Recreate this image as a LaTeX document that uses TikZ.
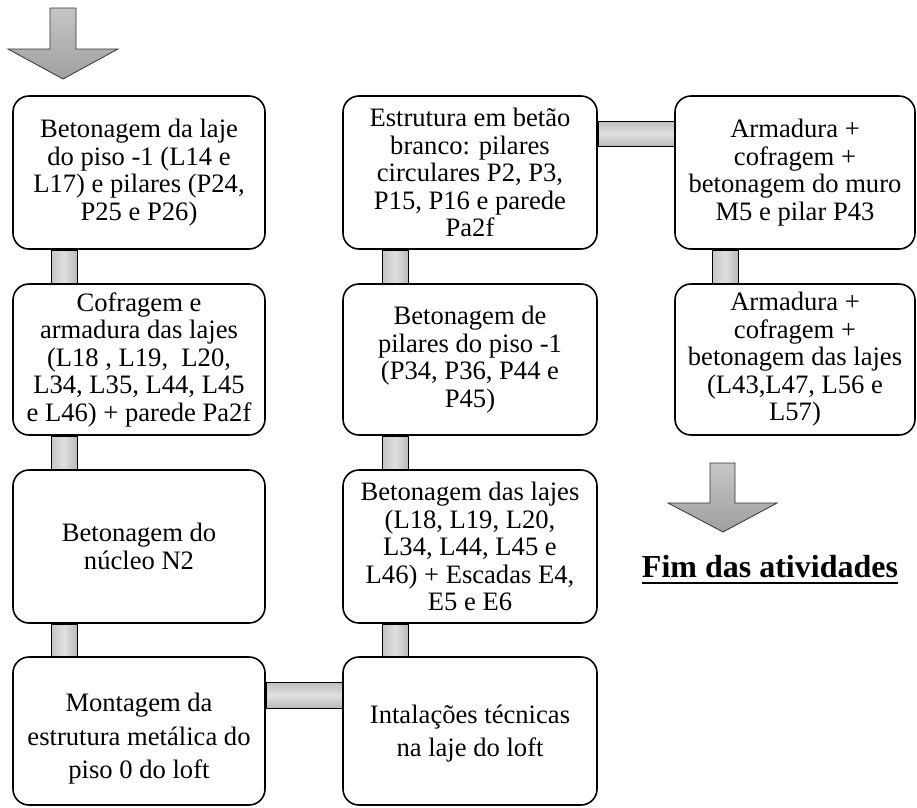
\documentclass[tikz,border=0pt]{standalone}
\usepackage{fontspec}
\setmainfont{Liberation Serif}
\usetikzlibrary{calc}
\tikzset{
  box/.style={draw=black, line width=1.6pt, rounded corners=16pt, fill=white,
    align=center, inner sep=0pt, font=\fontsize{26.6pt}{27.5pt}\selectfont},
  lowbox/.style={box, font=\fontsize{26.6pt}{33.5pt}\selectfont},
  vconn/.style={draw=black, line width=1.4pt, left color=gray!45, right color=gray!55, middle color=gray!25},
  hconn/.style={draw=black, line width=1.4pt, top color=gray!50, bottom color=gray!55, middle color=gray!25},
  bigarrow/.style={draw=black!80, line width=0.8pt, top color=gray!45, bottom color=gray!75}
}
\begin{document}
\begin{tikzpicture}[x=1pt,y=-1pt]
\useasboundingbox (0,0) rectangle (917,807);

% arrows
\path[bigarrow] (50,8) -- (76,8) -- (76,49) -- (118,49) -- (63,79) -- (8,49) -- (50,49) -- cycle;
\path[bigarrow] (710,463) -- (735,463) -- (735,503) -- (777,503) -- (723,532) -- (668,503) -- (710,503) -- cycle;

% column 1
\node[box, minimum width=252pt, minimum height=153pt] (b11) at (139,172.5)
  {Betonagem da laje\\do piso -1 (L14 e\\L17) e pilares (P24,\\P25 e P26)};
\node[box, minimum width=252pt, minimum height=151pt] (b12) at (139,359.5)
  {Cofragem e\\armadura das lajes\\(L18 , L19,\ \ L20,\\L34, L35, L44, L45\\e L46) + parede Pa2f};
\node[box, minimum width=252pt, minimum height=153pt] (b13) at (139,546.5)
  {Betonagem do\\núcleo N2};
\node[lowbox, minimum width=252pt, minimum height=148pt] (b14) at (139,731)
  {\rule{0pt}{34pt}Montagem da\\estrutura metálica do\\piso 0 do loft};

% column 2
\node[box, minimum width=254pt, minimum height=153pt] (b21) at (470,172.5)
  {Estrutura em betão\\branco: pilares\\circulares P2, P3,\\P15, P16 e parede\\Pa2f};
\node[box, minimum width=254pt, minimum height=151pt] (b22) at (470,359.5)
  {Betonagem de\\pilares do piso -1\\(P34, P36, P44 e\\P45)};
\node[box, minimum width=254pt, minimum height=153pt] (b23) at (470,546.5)
  {Betonagem das lajes\\(L18, L19, L20,\\L34, L44, L45 e\\L46) + Escadas E4,\\E5 e E6};
\node[lowbox, minimum width=254pt, minimum height=148pt] (b24) at (470,731)
  {\rule{0pt}{24pt}Intalações técnicas\\na laje do loft};

% column 3
\node[box, minimum width=240pt, minimum height=153pt] (b31) at (795,172.5)
  {Armadura +\\cofragem +\\betonagem do muro\\M5 e pilar P43};
\node[box, minimum width=240pt, minimum height=151pt] (b32) at (795,359.5)
  {Armadura +\\cofragem +\\betonagem das lajes\\(L43,L47, L56 e\\L57)};

% connectors
\path[vconn] ([xshift=39pt]b11.south west) rectangle ([xshift=65pt]b12.north west);
\path[vconn] ([xshift=39pt]b12.south west) rectangle ([xshift=65pt]b13.north west);
\path[vconn] ([xshift=39pt]b13.south west) rectangle ([xshift=65pt]b14.north west);
\path[hconn] ([yshift=-26pt]b14.north east) rectangle ([yshift=-52pt]b24.north west);
\path[vconn] ([xshift=40pt]b23.south west) rectangle ([xshift=66pt]b24.north west);
\path[vconn] ([xshift=40pt]b22.south west) rectangle ([xshift=66pt]b23.north west);
\path[vconn] ([xshift=40pt]b21.south west) rectangle ([xshift=66pt]b22.north west);
\path[hconn] ([yshift=-26pt]b21.north east) rectangle ([yshift=-51pt]b31.north west);
\path[vconn] ([xshift=38pt]b31.south west) rectangle ([xshift=64pt]b32.north west);

% end label
\node[anchor=base, inner sep=0pt, font=\bfseries\fontsize{32pt}{34pt}\selectfont] (fim) at (770,577) {Fim das atividades};
\draw[line width=2.2pt] ([yshift=-6pt]fim.base west) -- ([yshift=-6pt]fim.base east);
\end{tikzpicture}
\end{document}
